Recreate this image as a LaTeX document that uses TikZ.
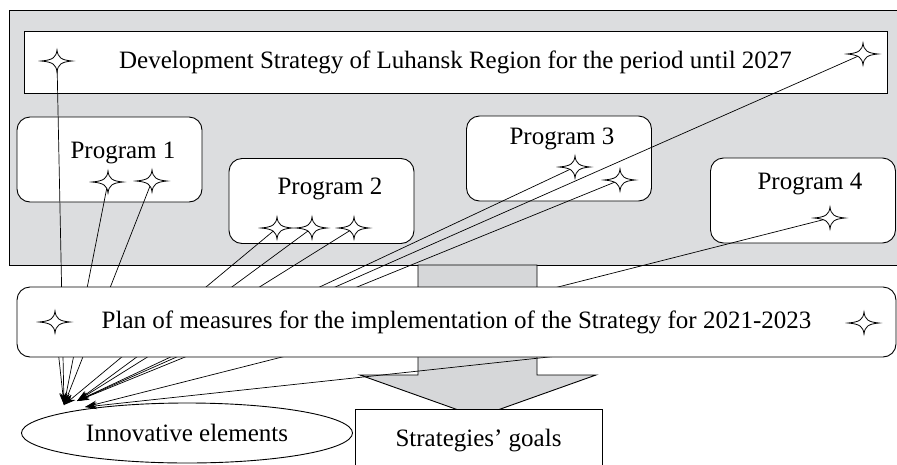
\documentclass[tikz,border=0pt]{standalone}
\usepackage{fontspec}
\setmainfont{Liberation Serif}
\usetikzlibrary{shapes.geometric,arrows.meta}
\definecolor{panelgray}{HTML}{DCDDDF}
\definecolor{arrowgray}{HTML}{D6D7D9}
\pgfdeclarelayer{back}
\pgfdeclarelayer{wires}
\pgfdeclarelayer{front}
\pgfsetlayers{back,main,wires,front}
\tikzset{
  box/.style={draw, fill=white, line width=0.9pt, inner sep=0pt, font=\fontsize{25}{29}\selectfont},
  progbox/.style={box, rounded corners=13pt, minimum width=185pt, minimum height=85pt},
  txt/.style={inner sep=0pt, font=\fontsize{25}{29}\selectfont},
  spark/.style={minimum width=38pt, minimum height=28pt, inner sep=0pt,
    path picture={
      \begin{scope}[shift={(path picture bounding box.center)}]
      \filldraw[fill=white, line width=0.8pt] (-16pt,0pt)
        .. controls (-4pt,1pt) and (-1pt,3.5pt) .. (0pt,11pt)
        .. controls (1pt,3.5pt) and (4pt,1pt) .. (15pt,0pt)
        .. controls (4pt,-1pt) and (1pt,-3.5pt) .. (0pt,-11pt)
        .. controls (-1pt,-3.5pt) and (-4pt,-1pt) .. (-16pt,0pt) -- cycle;
      \end{scope}}},
  link/.style={line width=0.7pt, -{Stealth[length=12pt,width=7pt]}}
}
\begin{document}
\begin{tikzpicture}[x=1pt, y=-1pt]
\useasboundingbox (0,0) rectangle (897,464);

% grey panel and block arrow
\begin{pgfonlayer}{back}
\fill[panelgray] (9,10) rectangle (897,265);
\draw[line width=0.9pt] (897,10) -- (9,10) -- (9,265) -- (897,265);
\draw[fill=arrowgray, line width=0.9pt] (418,265) -- (418,375) -- (360,375) -- (478,417)
  -- (596,375) -- (537,375) -- (537,265) -- cycle;
\end{pgfonlayer}

\node[box, minimum width=863, minimum height=62] (strategy) at (455.5,62) {Development Strategy of Luhansk Region for the period until 2027};

\node[progbox] (p1) at (109.5,159.5) {};
\node[txt] (p1t) at (123,153) {Program 1};
\node[progbox] (p2) at (321.5,201) {};
\node[txt] (p2t) at (330,189) {Program 2};
\node[progbox] (p3) at (559,158.5) {};
\node[txt] (p3t) at (562,139) {Program 3};
\node[progbox] (p4) at (803,200.5) {};
\node[txt] (p4t) at (810,184) {Program 4};

\node[box, minimum width=247, minimum height=64] (goals) at (478.5,441) {Strategies' goals};
\node[box, ellipse, minimum width=331, minimum height=60] (innov) at (187,433) {Innovative elements};

\begin{pgfonlayer}{front}
\node[spark] (s0a) at (57,61) {};
\node[spark] (s0b) at (863,54) {};
\node[spark] (s1a) at (108,182) {};
\node[spark] (s1b) at (152,181) {};
\node[spark] (s2a) at (277,228) {};
\node[spark] (s2b) at (312,228) {};
\node[spark] (s2c) at (354,228) {};
\node[spark] (s3a) at (575,167) {};
\node[spark] (s3b) at (620,180) {};
\node[spark] (s4a) at (830,218) {};
\node[box, rounded corners=13pt, minimum width=879, minimum height=70] (plan) at (456.5,322) {Plan of measures for the implementation of the Strategy for 2021-2023};
\node[spark] (s5a) at (55,322) {};
\node[spark] (s5b) at (864,323) {};
\end{pgfonlayer}

\coordinate (tipA) at (64,405);
\coordinate (tipB) at (77,401);
\coordinate (tipC) at (85,407);

\begin{pgfonlayer}{wires}
\path[draw,link] (s0a.center) -- (tipA);
\path[draw,link] (s5a.center) -- (tipA);
\path[draw,link] (s1a.center) -- (tipA);
\path[draw,link] (s1b.center) -- (tipA);
\path[draw,link] (s2a.center) -- (tipA);
\path[draw,link] (s2b.center) -- (tipB);
\path[draw,link] (s2c.center) -- (tipB);
\path[draw,link] (s3a.center) -- (tipB);
\path[draw,link] (s3b.center) -- (tipB);
\path[draw,link] (s0b.center) -- (tipB);
\path[draw,link] (s4a.center) -- (tipC);
\path[draw,link] (s5b.center) -- (tipC);
\end{pgfonlayer}
\end{tikzpicture}
\end{document}
